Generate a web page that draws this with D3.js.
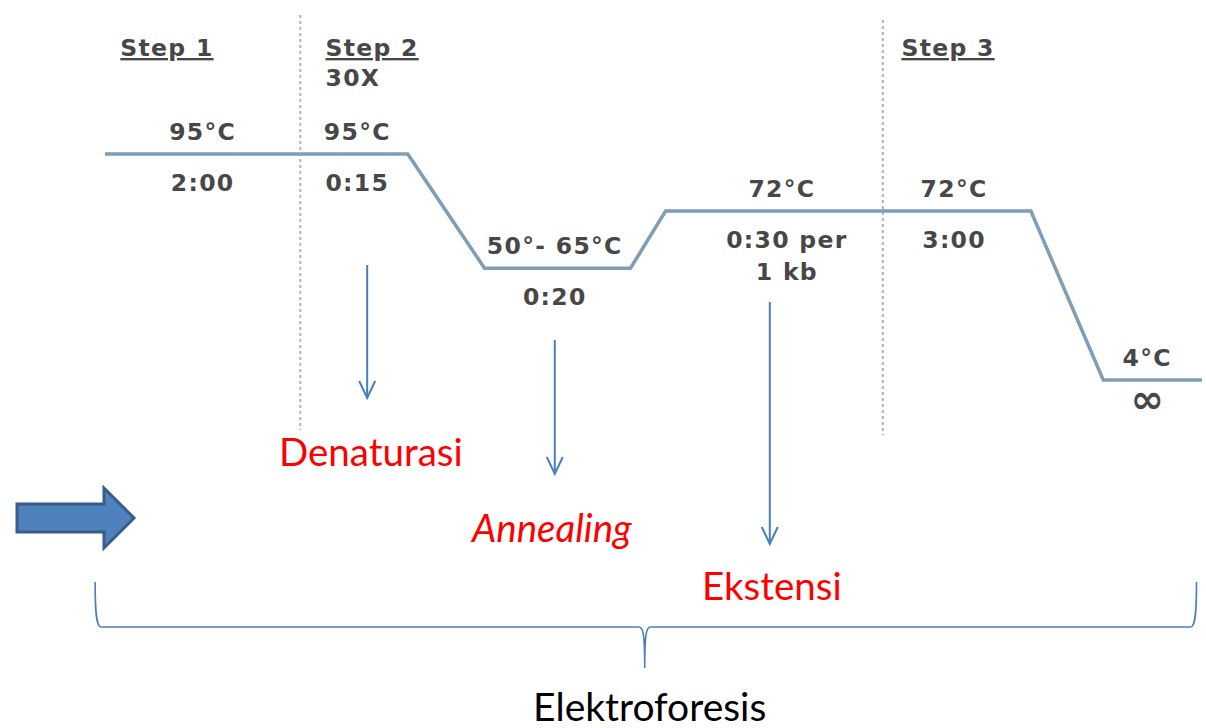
<!DOCTYPE html>
<html><head><meta charset="utf-8">
<script src="https://cdn.jsdelivr.net/npm/d3@7"></script>
<style>body{margin:0;background:#fff;}svg{display:block;}</style>
</head><body>
<script>
// ---- data ----
const stepLabels = ["Step 1", "Step 2", "Step 3"];
const stepStart = [1.4, 20.1, 72.6];           // schematic time units
const cycleLabel = "30X";
const profileTime = [0, 27.6, 34.6, 47.9, 51.1, 84.4, 91.0, 100];
const profileTemp = [95, 95, 49, 49, 72, 72, 4, 4];
const dividerTime = [17.8, 70.9];
const tempLabels = ["95°C", "95°C", "50°- 65°C", "72°C", "72°C", "4°C"];
const tempLabelTime = [8.9, 23.0, 41.0, 61.7, 77.4, 95.0];
const tempLabelTemp = [95, 95, 49, 72, 72, 4];
const durLabels = [["2:00"], ["0:15"], ["0:20"], ["0:30 per", "1 kb"], ["3:00"], ["∞"]];
const phaseNames = ["Denaturasi", "Annealing", "Ekstensi"];
const phaseArrowTime = [23.9, 41.0, 60.6];
const finalLabel = "Elektroforesis";

(function () {
// ---- layout ----
const W = 1206, H = 728;
const svg = d3.select("body").append("svg").attr("width", W).attr("height", H);
const x = d3.scaleLinear().domain([0, 100]).range([105, 1202]);
const y = d3.scaleLinear().domain([95, 4]).range([154, 380]);
const gray = "#474747", lineCol = "#7f9db5", blue = "#4a7ebb";
const monoFont = "'DejaVu Sans', Verdana, sans-serif";
const bodyFont = "Lato, 'Open Sans', sans-serif";
const smallSize = 23.5, smallSpacing = 1.3, smallWeight = "bold";

// dividers
svg.selectAll("line.div").data(dividerTime).join("line")
  .attr("x1", d => x(d)).attr("x2", d => x(d))
  .attr("y1", (d, i) => i ? 20 : 15).attr("y2", (d, i) => i ? 435 : 430)
  .attr("stroke", "#a9b4c0").attr("stroke-width", 2).attr("stroke-dasharray", "3,3");

// profile line
const pts = profileTime.map((t, i) => [x(t), y(profileTemp[i])]);
svg.append("path").attr("d", d3.line()(pts))
  .attr("fill", "none").attr("stroke", lineCol).attr("stroke-width", 3.5);

function small(sel) {
  return sel.attr("font-family", monoFont).attr("font-size", smallSize)
    .attr("font-weight", smallWeight).attr("letter-spacing", smallSpacing)
    .attr("fill", gray);
}

// step labels
small(svg.selectAll("text.step").data(stepLabels).join("text")
  .attr("x", (d, i) => x(stepStart[i])).attr("y", 56))
  .style("text-decoration", "underline").text(d => d);
small(svg.append("text").attr("x", x(stepStart[1])).attr("y", 86)).text(cycleLabel);

// temperature labels (above line)
small(svg.selectAll("text.temp").data(tempLabels).join("text")
  .attr("x", (d, i) => x(tempLabelTime[i])).attr("y", (d, i) => y(tempLabelTemp[i]) - 14)
  .attr("text-anchor", "middle")).text(d => d);

// duration labels (below line)
durLabels.forEach((lines, i) => {
  lines.forEach((s, k) => {
    const isInf = s === "∞";
    const t = small(svg.append("text").attr("x", x(tempLabelTime[i]) + (i === 3 ? 5 : 0))
      .attr("y", y(tempLabelTemp[i]) + (isInf ? 33 : 37) + k * 32)
      .attr("text-anchor", "middle")).text(s);
    if (isInf) t.attr("font-size", 40).attr("letter-spacing", 0);
  });
});

// phase arrows
const arrowY = [[265, 398], [340, 474], [302, 544]];
phaseArrowTime.forEach((t, i) => {
  const ax = x(t), [y0, y1] = arrowY[i];
  svg.append("line").attr("x1", ax).attr("x2", ax).attr("y1", y0).attr("y2", y1)
    .attr("stroke", blue).attr("stroke-width", 2);
  svg.append("path").attr("d", `M${ax - 8},${y1 - 17}L${ax},${y1}L${ax + 8},${y1 - 17}`)
    .attr("fill", "none").attr("stroke", blue).attr("stroke-width", 2);
});

// phase names
const phasePos = [[279, 466], [472, 542], [702, 600]];
svg.selectAll("text.phase").data(phaseNames).join("text")
  .attr("x", (d, i) => phasePos[i][0]).attr("y", (d, i) => phasePos[i][1])
  .attr("font-family", bodyFont).attr("font-size", 38.5)
  .attr("font-style", (d, i) => i === 1 ? "italic" : "normal")
  .attr("fill", "#ff0000").text(d => d);

// block arrow
svg.append("path")
  .attr("d", "M17,504L104,504L104,488L134,518L104,548L104,532L17,532Z")
  .attr("fill", "#4f81bd").attr("stroke", "#385d8a").attr("stroke-width", 3)
  .attr("stroke-linejoin", "miter");

// brace
const bl = x(-0.9), br = x(99.5), bm = x(49.2), bTop = 582, bMid = 627, bTip = 668;
const brace = d3.path();
brace.moveTo(bl, bTop);
brace.bezierCurveTo(bl, bTop + 30, bl + 1, bMid, bl + 6, bMid);
brace.lineTo(bm - 6, bMid);
brace.bezierCurveTo(bm - 2, bMid, bm, bMid + 4, bm, bTip);
brace.bezierCurveTo(bm, bMid + 4, bm + 2, bMid, bm + 6, bMid);
brace.lineTo(br - 6, bMid);
brace.bezierCurveTo(br - 1, bMid, br, bTop + 30, br, bTop);
svg.append("path").attr("d", brace.toString())
  .attr("fill", "none").attr("stroke", blue).attr("stroke-width", 1.6);

svg.append("text").attr("x", bm + 5).attr("y", 721).attr("text-anchor", "middle")
  .attr("font-family", bodyFont).attr("font-size", 39).attr("fill", "#000").text(finalLabel);
})();
</script>
</body></html>
